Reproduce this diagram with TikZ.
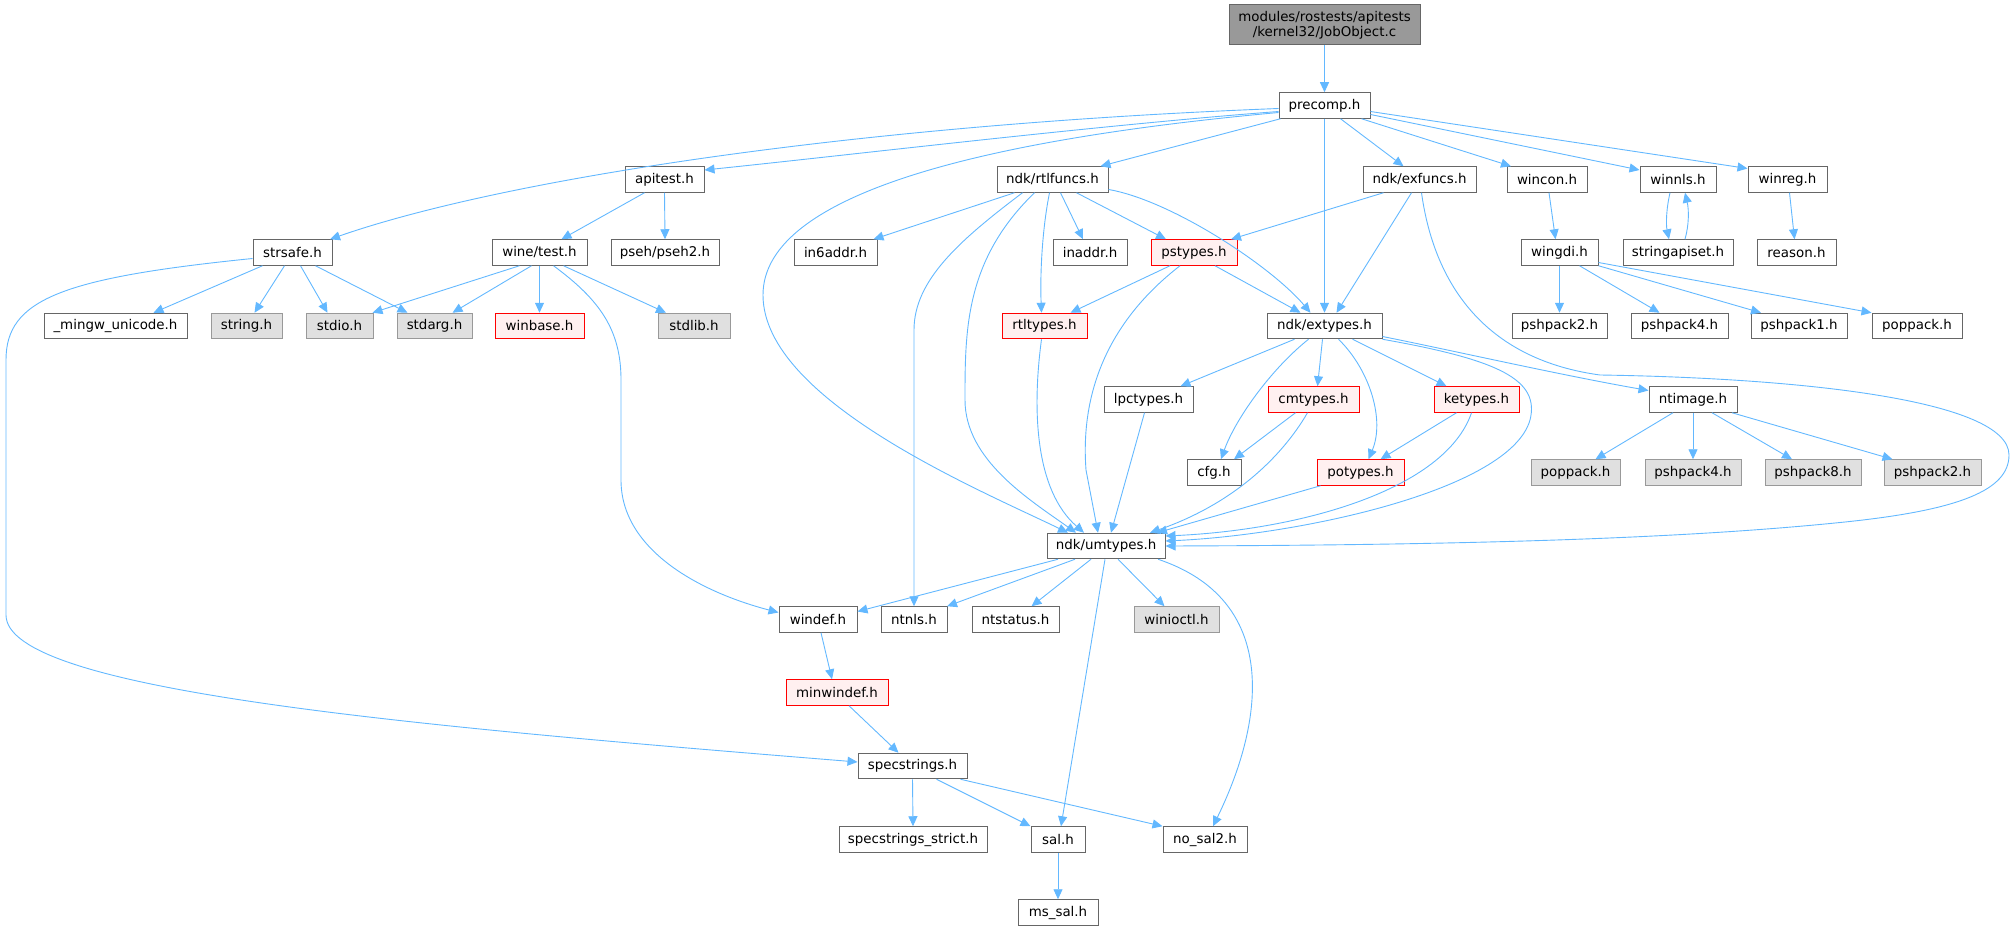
\documentclass[tikz,border=0pt]{standalone}
\usepackage{fontspec}
\setmainfont{DejaVu Sans}
\usetikzlibrary{arrows.meta}
\definecolor{edgecol}{RGB}{99,184,255}
\definecolor{nodeborder}{RGB}{102,102,102}
\definecolor{grayborder}{RGB}{153,153,153}
\definecolor{grayfill}{RGB}{224,224,224}
\definecolor{redfill}{RGB}{255,240,240}
\definecolor{rootfill}{RGB}{153,153,153}
\newcommand\nodefnt{\fontsize{13.4}{15}\selectfont}
\tikzset{
  nbox/.style={draw=nodeborder, fill=white, line width=1pt, minimum height=25.5pt, inner sep=0pt, font=\nodefnt, text=black},
  gbox/.style={nbox, draw=grayborder, fill=grayfill},
  rbox/.style={nbox, draw=red, fill=redfill},
  edge/.style={draw=edgecol, line width=0.9pt, -{Triangle[length=10pt,width=9pt]}},
}
\begin{document}
\begin{tikzpicture}[x=1pt,y=-1pt]
\useasboundingbox (0,0) rectangle (2016,931);
% nodes
\node[nbox, fill=rootfill, minimum width=191pt, minimum height=40pt, align=center] (job) at (1324.5,25) {modules/rostests/apitests\\/kernel32/JobObject.c};
\node[nbox, minimum width=91pt] (precomp) at (1324.5,105.5) {precomp.h};
\node[nbox, minimum width=79pt] (strsafe) at (292.5,252.5) {strsafe.h};
\node[nbox, minimum width=79pt] (apitest) at (664.5,179.5) {apitest.h};
\node[nbox, minimum width=111pt] (rtlfuncs) at (1052.5,179.5) {ndk/rtlfuncs.h};
\node[nbox, minimum width=113pt] (exfuncs) at (1419.5,179.5) {ndk/exfuncs.h};
\node[nbox, minimum width=80pt] (wincon) at (1547,179.5) {wincon.h};
\node[nbox, minimum width=76pt] (winnls) at (1678,179.5) {winnls.h};
\node[nbox, minimum width=79pt] (winreg) at (1787.5,179.5) {winreg.h};
\node[nbox, minimum width=143pt] (mingw) at (115.5,326) {\_mingw\_unicode.h};
\node[gbox, minimum width=71pt] (stringh) at (246.5,326) {string.h};
\node[gbox, minimum width=67pt] (stdio) at (339.5,326) {stdio.h};
\node[gbox, minimum width=75pt] (stdarg) at (434.5,326) {stdarg.h};
\node[nbox, minimum width=95pt] (winetest) at (539.5,252.5) {wine/test.h};
\node[nbox, minimum width=108pt] (pseh) at (665,252.5) {pseh/pseh2.h};
\node[nbox, minimum width=83pt] (insixaddr) at (835.5,252.5) {in6addr.h};
\node[nbox, minimum width=74pt] (inaddr) at (1090,252.5) {inaddr.h};
\node[rbox, minimum width=86pt] (pstypes) at (1194,252.5) {pstypes.h};
\node[nbox, minimum width=77pt] (wingdi) at (1559.5,252.5) {wingdi.h};
\node[nbox, minimum width=110pt] (strapi) at (1678,252.5) {stringapiset.h};
\node[nbox, minimum width=79pt] (reason) at (1796.5,252.5) {reason.h};
\node[rbox, minimum width=89pt] (winbase) at (539.5,326) {winbase.h};
\node[gbox, minimum width=72pt] (stdlib) at (694,326) {stdlib.h};
\node[rbox, minimum width=85pt] (rtltypes) at (1044.5,326) {rtltypes.h};
\node[nbox, minimum width=115pt] (extypes) at (1324.5,326) {ndk/extypes.h};
\node[nbox, minimum width=95pt] (pptwow) at (1559.5,326) {pshpack2.h};
\node[nbox, minimum width=97pt] (ppfourw) at (1679.5,326) {pshpack4.h};
\node[nbox, minimum width=96pt] (ppone) at (1799,326) {pshpack1.h};
\node[nbox, minimum width=90pt] (poppackw) at (1917,326) {poppack.h};
\node[nbox, minimum width=89pt] (lpctypes) at (1148.5,399.5) {lpctypes.h};
\node[rbox, minimum width=91pt] (cmtypes) at (1313.5,399.5) {cmtypes.h};
\node[rbox, minimum width=85pt] (ketypes) at (1476.5,399.5) {ketypes.h};
\node[nbox, minimum width=88pt] (ntimage) at (1693,399.5) {ntimage.h};
\node[nbox, minimum width=54pt] (cfg) at (1214,472.5) {cfg.h};
\node[rbox, minimum width=87pt] (potypes) at (1360.5,472.5) {potypes.h};
\node[gbox, minimum width=89pt] (poppackg) at (1575.5,472.5) {poppack.h};
\node[gbox, minimum width=96pt] (ppfourg) at (1693,472.5) {pshpack4.h};
\node[gbox, minimum width=96pt] (ppeight) at (1813,472.5) {pshpack8.h};
\node[gbox, minimum width=97pt] (pptwog) at (1932.5,472.5) {pshpack2.h};
\node[nbox, minimum width=118pt] (umtypes) at (1106,546) {ndk/umtypes.h};
\node[nbox, minimum width=78pt] (windef) at (818,619.5) {windef.h};
\node[nbox, minimum width=66pt] (ntnls) at (914,619.5) {ntnls.h};
\node[nbox, minimum width=87pt] (ntstatus) at (1015.5,619.5) {ntstatus.h};
\node[gbox, minimum width=85pt] (winioctl) at (1176.5,619.5) {winioctl.h};
\node[rbox, minimum width=102pt] (minwindef) at (837,692.5) {minwindef.h};
\node[nbox, minimum width=109pt] (specstrings) at (912.5,766) {specstrings.h};
\node[nbox, minimum width=148pt] (strict) at (913,839.5) {specstrings\_strict.h};
\node[nbox, minimum width=54pt] (sal) at (1058,839.5) {sal.h};
\node[nbox, minimum width=84pt] (nosal) at (1205,839.5) {no\_sal2.h};
\node[nbox, minimum width=80pt] (mssal) at (1058,912.5) {ms\_sal.h};
% edges from root / precomp
\draw[edge] (job.south) -- (precomp.north);
\draw[edge] ([yshift=-3pt]precomp.west) .. controls (850,125) and (500,180) .. ([xshift=37.5pt]strsafe.north);
\draw[edge] ([yshift=-6pt]precomp.west) .. controls (1100,125) and (850,155) .. ([yshift=9.5pt]apitest.east);
\draw[edge] ([xshift=-44pt]precomp.south) -- ([xshift=48pt]rtlfuncs.north);
\draw[edge] ([yshift=-7pt]precomp.west) .. controls (1000,138) and (763,190) .. (763,295) .. controls (763,400) and (980,490) .. ([xshift=-38pt]umtypes.north);
\draw[edge] (precomp.south) -- (extypes.north);
\draw[edge] ([xshift=16pt]precomp.south) -- ([xshift=-16pt]exfuncs.north);
\draw[edge] ([xshift=37pt]precomp.south) -- ([xshift=-36pt]wincon.north);
\draw[edge] ([yshift=-9pt]precomp.east) -- ([yshift=9.5pt]winnls.west);
\draw[edge] ([yshift=-6pt]precomp.east) -- ([yshift=11pt]winreg.west);
% strsafe
\draw[edge] ([xshift=-30pt]strsafe.south) -- ([xshift=38pt]mingw.north);
\draw[edge] ([xshift=-8pt]strsafe.south) -- ([xshift=8pt]stringh.north);
\draw[edge] ([xshift=8pt]strsafe.south) -- ([xshift=-12pt]stdio.north);
\draw[edge] ([xshift=23pt]strsafe.south) -- ([xshift=-27pt]stdarg.north);
\draw[edge] ([yshift=-6pt]strsafe.west) .. controls (60,278) and (6,300) .. (6,360) -- (6,615) .. controls (6,690) and (400,725) .. ([yshift=4pt]specstrings.west);
% apitest
\draw[edge] ([xshift=-20pt]apitest.south) -- ([xshift=22pt]winetest.north);
\draw[edge] (apitest.south) -- (pseh.north);
% wine/test
\draw[edge] ([xshift=-20pt]winetest.south) -- ([xshift=33pt]stdio.north);
\draw[edge] ([xshift=-8pt]winetest.south) -- ([xshift=18pt]stdarg.north);
\draw[edge] (winetest.south) -- (winbase.north);
\draw[edge] ([xshift=24pt]winetest.south) -- ([xshift=-28pt]stdlib.north);
\draw[edge] ([xshift=14pt]winetest.south) .. controls (600,300) and (621,330) .. (621,380) -- (621,480) .. controls (621,550) and (700,592) .. ([yshift=7pt]windef.west);
% rtlfuncs
\draw[edge] ([xshift=-38pt]rtlfuncs.south) -- ([xshift=38pt]insixaddr.north);
\draw[edge] ([xshift=8pt]rtlfuncs.south) -- ([xshift=-7pt]inaddr.north);
\draw[edge] ([xshift=24pt]rtlfuncs.south) -- ([xshift=-28pt]pstypes.north);
\draw[edge] ([xshift=-3pt]rtlfuncs.south) .. controls (1042,230) and (1040,275) .. ([xshift=-3pt]rtltypes.north);
\draw[edge] ([yshift=-10pt]rtlfuncs.east) .. controls (1170,200) and (1270,265) .. ([xshift=-14pt]extypes.north);
\draw[edge] ([xshift=-30pt]rtlfuncs.south) .. controls (960,240) and (914,280) .. (914,330) -- (ntnls.north);
\draw[edge] ([xshift=-18pt]rtlfuncs.south) .. controls (965,260) and (965,330) .. (965,400) .. controls (965,460) and (1030,500) .. ([xshift=-30pt]umtypes.north);
% exfuncs
\draw[edge] ([xshift=-36pt]exfuncs.south) -- ([xshift=37pt]pstypes.north);
\draw[edge] ([xshift=-8pt]exfuncs.south) -- ([xshift=12pt]extypes.north);
\draw[edge] ([xshift=2pt]exfuncs.south) .. controls (1435,290) and (1490,360) .. (1600,375) .. controls (1800,378) and (2009,400) .. (2009,455) .. controls (2009,490) and (1960,510) .. (1845,522) .. controls (1700,537) and (1500,545) .. (umtypes.east);
% extypes
\draw[edge] ([xshift=-30pt]extypes.south) -- ([xshift=32pt]lpctypes.north);
\draw[edge] ([xshift=-16pt]extypes.south) .. controls (1270,370) and (1235,420) .. ([xshift=7pt]cfg.north);
\draw[edge] ([xshift=-2pt]extypes.south) -- ([xshift=4pt]cmtypes.north);
\draw[edge] ([xshift=14pt]extypes.south) .. controls (1370,370) and (1385,420) .. ([xshift=8pt]potypes.north);
\draw[edge] ([xshift=28pt]extypes.south) -- ([xshift=-30pt]ketypes.north);
\draw[edge] ([yshift=-10.5pt]extypes.east) .. controls (1450,350) and (1560,375) .. ([yshift=9pt]ntimage.west);
\draw[edge] (extypes.south east) .. controls (1500,360) and (1540,380) .. (1530,420) .. controls (1510,490) and (1300,535) .. ([yshift=5pt]umtypes.east);
% pstypes
\draw[edge] ([xshift=-24pt]pstypes.south) -- ([xshift=26pt]rtltypes.north);
\draw[edge] ([xshift=21pt]pstypes.south) -- ([xshift=-24pt]extypes.north);
\draw[edge] ([xshift=-14pt]pstypes.south) .. controls (1110,320) and (1080,390) .. (1086,470) -- ([xshift=-8pt]umtypes.north);
% into umtypes
\draw[edge] ([xshift=-3pt]rtltypes.south) .. controls (1032,410) and (1035,490) .. ([xshift=-22pt]umtypes.north);
\draw[edge] ([xshift=-4pt]lpctypes.south) -- ([xshift=5pt]umtypes.north);
\draw[edge] ([xshift=-18pt]cmtypes.south) -- ([xshift=20pt]cfg.north);
\draw[edge] ([xshift=-6pt]cmtypes.south) .. controls (1280,460) and (1230,505) .. ([xshift=44pt]umtypes.north);
\draw[edge] ([xshift=-20pt]ketypes.south) -- ([xshift=20pt]potypes.north);
\draw[edge] ([xshift=-5pt]ketypes.south) .. controls (1445,490) and (1300,530) .. ([yshift=10pt]umtypes.east);
\draw[edge] ([xshift=-40pt]potypes.south) -- ([xshift=51pt]umtypes.north);
% right part
\draw[edge] ([xshift=2pt]wincon.south) -- ([xshift=-4pt]wingdi.north);
\draw[edge] ([xshift=-8pt]winnls.south) .. controls (1666,210) and (1666,225) .. ([xshift=-9pt]strapi.north);
\draw[edge] ([xshift=7pt]strapi.north) .. controls (1689,225) and (1689,210) .. ([xshift=7pt]winnls.south);
\draw[edge] ([xshift=2pt]winreg.south) -- ([xshift=-2pt]reason.north);
\draw[edge] (wingdi.south) -- (pptwow.north);
\draw[edge] ([xshift=20pt]wingdi.south) -- ([xshift=-20pt]ppfourw.north);
\draw[edge] (wingdi.south east) -- ([xshift=-38pt]ppone.north);
\draw[edge] ([yshift=-10pt]wingdi.east) -- (poppackw.north west);
\draw[edge] ([xshift=-20pt]ntimage.south) -- ([xshift=20pt]poppackg.north);
\draw[edge] (ntimage.south) -- (ppfourg.north);
\draw[edge] ([xshift=19pt]ntimage.south) -- ([xshift=-21pt]ppeight.north);
\draw[edge] ([xshift=39pt]ntimage.south) -- ([xshift=-40pt]pptwog.north);
% umtypes out
\draw[edge] ([xshift=-48pt]umtypes.south) -- ([yshift=8pt]windef.east);
\draw[edge] ([xshift=-31pt]umtypes.south) -- ([xshift=33pt]ntnls.north);
\draw[edge] ([xshift=-15pt]umtypes.south) -- ([xshift=16pt]ntstatus.north);
\draw[edge] ([xshift=12pt]umtypes.south) -- ([xshift=-12pt]winioctl.north);
\draw[edge] ([xshift=-1pt]umtypes.south) -- ([xshift=3pt]sal.north);
\draw[edge] ([xshift=52pt]umtypes.south) .. controls (1280,600) and (1265,720) .. ([xshift=8pt]nosal.north);
% bottom
\draw[edge] ([xshift=3pt]windef.south) -- ([xshift=-5pt]minwindef.north);
\draw[edge] ([xshift=12pt]minwindef.south) -- ([xshift=-14pt]specstrings.north);
\draw[edge] (specstrings.south) -- (strict.north);
\draw[edge] ([xshift=24pt]specstrings.south) -- (sal.north west);
\draw[edge] ([xshift=48pt]specstrings.south) -- (nosal.north west);
\draw[edge] (sal.south) -- (mssal.north);
\end{tikzpicture}
\end{document}
